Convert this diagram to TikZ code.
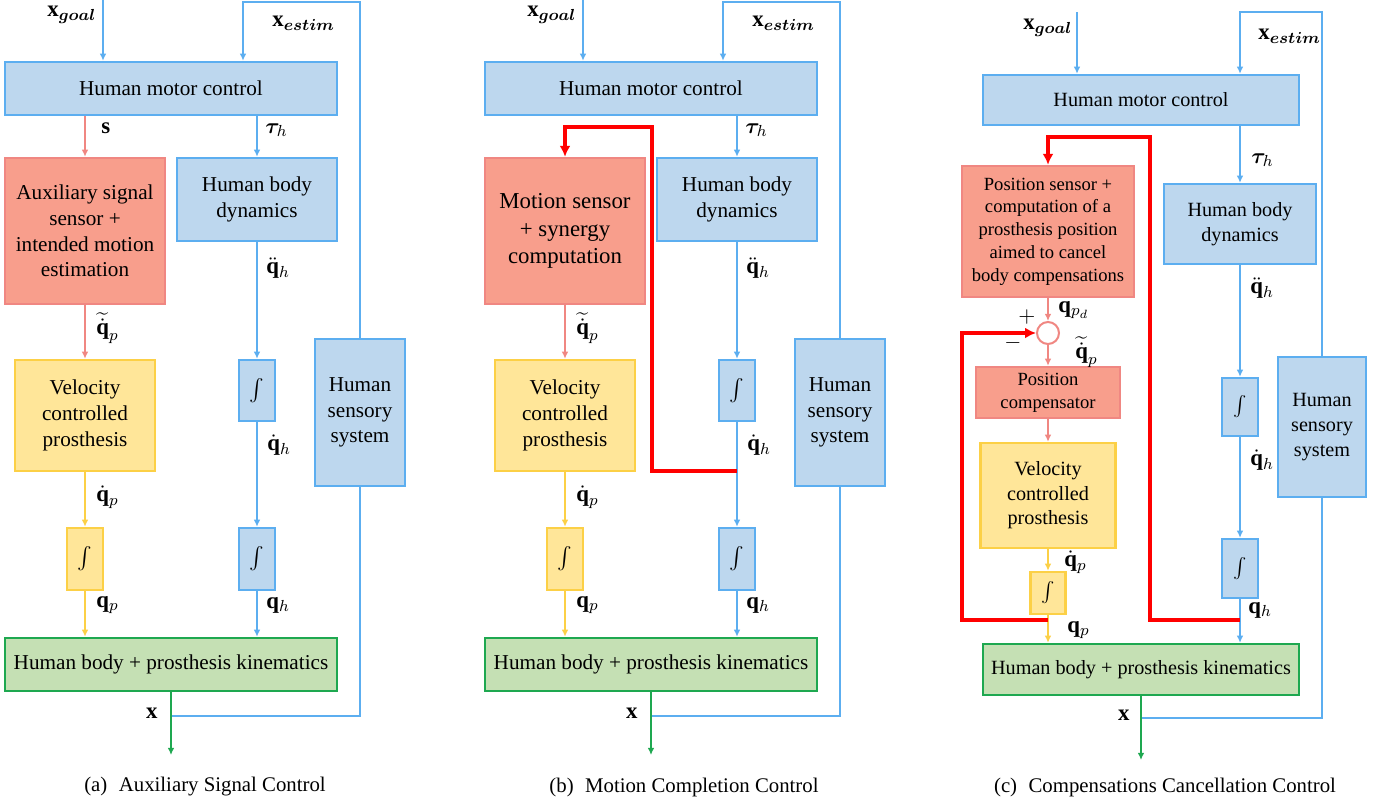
\documentclass[tikz,border=0pt]{standalone}
\usepackage{amsmath,bm}
\usepackage{fontspec}
\setmainfont{Liberation Serif}
\usetikzlibrary{arrows.meta}
\definecolor{bfill}{RGB}{189,215,238}
\definecolor{bline}{RGB}{92,174,240}
\definecolor{rfill}{RGB}{248,158,140}
\definecolor{rline}{RGB}{240,135,130}
\definecolor{yfill}{RGB}{255,230,153}
\definecolor{yline}{RGB}{252,208,70}
\definecolor{gfill}{RGB}{197,224,180}
\definecolor{gline}{RGB}{30,168,80}
\definecolor{fbred}{RGB}{255,0,0}
\newcommand{\fm}{\fontsize{10.6}{12.9}\selectfont}
\newcommand{\fl}{\fontsize{11.4}{13}\selectfont}
\newcommand{\fbig}{\fontsize{11.4}{13.8}\selectfont}
\newcommand{\fc}{\fontsize{10.1}{12.3}\selectfont}
\newcommand{\fsm}{\fontsize{9.3}{11.35}\selectfont}
\begin{document}
\begin{tikzpicture}[x=0.5pt,y=-0.5pt,
  box/.style={draw, line width=1.2pt, inner sep=0pt, align=center, font=\fm},
  sz/.style 2 args={minimum width=#1*0.5pt, minimum height=#2*0.5pt},
  bbox/.style={box, fill=bfill, draw=bline},
  rbox/.style={box, fill=rfill, draw=rline},
  ybox/.style={box, fill=yfill, draw=yline},
  gbox/.style={box, fill=gfill, draw=gline},
  con/.style={line width=0.9pt, -{Latex[length=3.6pt,width=3.4pt]}},
  bcon/.style={con, color=bline},
  rcon/.style={con, color=rline},
  ycon/.style={con, color=yline},
  gcon/.style={con, color=gline},
  bpath/.style={line width=0.9pt, draw=bline},
  fbcon/.style={line width=1.7pt, -{Latex[length=5.5pt,width=5.5pt]}, color=fbred},
  lab/.style={anchor=west, inner sep=0pt, font=\fl},
  captext/.style={inner sep=0pt, font=\fontsize{10.4}{12}\selectfont}
]
\useasboundingbox (0,0) rectangle (1382,804);

%% ================= Panel (a) =================
\coordinate (gA) at (103,0);
\coordinate (eA) at (243,2);
\coordinate (jA) at (171,716);
\coordinate (oA) at (171,755);
\node[bbox, sz={332}{53}] (hmcA) at (171,88.5) {Human motor control};
\node[rbox, sz={160}{146}] (redA) at (85,231) {Auxiliary signal\\sensor +\\intended motion\\estimation};
\node[bbox, sz={160}{83}] (hbdA) at (257,199.5) {Human body\\dynamics};
\node[ybox, sz={140}{111}] (velA) at (85,415.5) {Velocity\\controlled\\prosthesis};
\node[ybox, sz={36}{62}] (ipA) at (85,559) {$\int$};
\node[bbox, sz={36}{61}] (ih1A) at (257,390.5) {$\int$};
\node[bbox, sz={36}{62}] (ih2A) at (257,559) {$\int$};
\node[bbox, sz={90}{147}] (hssA) at (360,412.5) {Human\\sensory\\system};
\node[gbox, sz={332}{53}] (hbkA) at (171,664.5) {Human body + prosthesis kinematics};

\draw[bcon] (gA) -- (gA |- hmcA.north);
\draw[bcon] (hssA.north) |- (eA) -- (eA |- hmcA.north);
\draw[rcon] (hmcA.south -| redA.north) -- (redA.north);
\draw[bcon] (hmcA.south -| hbdA.north) -- (hbdA.north);
\draw[rcon] (redA.south) -- (velA.north);
\draw[ycon] (velA.south) -- (ipA.north);
\draw[ycon] (ipA.south) -- (ipA.south |- hbkA.north);
\draw[bcon] (hbdA.south) -- (ih1A.north);
\draw[bcon] (ih1A.south) -- (ih2A.north);
\draw[bcon] (ih2A.south) -- (ih2A.south |- hbkA.north);
\draw[bpath] (hssA.south) |- (jA);
\draw[gcon] (hbkA.south) -- (oA);

\node[lab] (lgA) at (47,15) {$\mathbf{x}_{\boldsymbol{goal}}$};
\node[lab] (leA) at (272,23) {$\mathbf{x}_{\boldsymbol{estim}}$};
\node[lab] (lsA) at (101,128) {$\mathbf{s}$};
\node[lab] (ltA) at (265,130) {$\boldsymbol{\tau}_h$};
\node[lab] (lqddA) at (266,268) {$\ddot{\mathbf{q}}_h$};
\node[lab] (lqtA) at (96,328) {$\widetilde{\dot{\mathbf{q}}}_p$};
\node[lab] (lqdhA) at (267,445) {$\dot{\mathbf{q}}_h$};
\node[lab] (lqdpA) at (96,497) {$\dot{\mathbf{q}}_p$};
\node[lab] (lqpA) at (96,605) {$\mathbf{q}_p$};
\node[lab] (lqhA) at (266,605) {$\mathbf{q}_h$};
\node[lab, anchor=east] (lxA) at (158,713) {$\mathbf{x}$};
\node[captext] (capA) at (205,787) {(a)\hspace{0.55em}Auxiliary Signal Control};

%% ================= Panel (b) =================
\coordinate (gB) at (583,0);
\coordinate (eB) at (723,2);
\coordinate (jB) at (651,716);
\coordinate (oB) at (651,755);
\coordinate (fbB) at (737,471);
\coordinate (tB) at (652,127);
\node[bbox, sz={332}{53}] (hmcB) at (651,88.5) {Human motor control};
\node[rbox, sz={160}{146}, font=\fbig] (redB) at (565,231) {Motion sensor\\+ synergy\\computation};
\node[bbox, sz={160}{83}] (hbdB) at (737,199.5) {Human body\\dynamics};
\node[ybox, sz={140}{111}] (velB) at (565,415.5) {Velocity\\controlled\\prosthesis};
\node[ybox, sz={36}{62}] (ipB) at (565,559) {$\int$};
\node[bbox, sz={36}{61}] (ih1B) at (737,390.5) {$\int$};
\node[bbox, sz={36}{62}] (ih2B) at (737,559) {$\int$};
\node[bbox, sz={90}{147}] (hssB) at (840,412.5) {Human\\sensory\\system};
\node[gbox, sz={332}{53}] (hbkB) at (651,664.5) {Human body + prosthesis kinematics};

\draw[bcon] (gB) -- (gB |- hmcB.north);
\draw[bcon] (hssB.north) |- (eB) -- (eB |- hmcB.north);
\draw[bcon] (hmcB.south -| hbdB.north) -- (hbdB.north);
\draw[rcon] (redB.south) -- (velB.north);
\draw[ycon] (velB.south) -- (ipB.north);
\draw[ycon] (ipB.south) -- (ipB.south |- hbkB.north);
\draw[bcon] (hbdB.south) -- (ih1B.north);
\draw[bcon] (ih1B.south) -- (ih2B.north);
\draw[bcon] (ih2B.south) -- (ih2B.south |- hbkB.north);
\draw[bpath] (hssB.south) |- (jB);
\draw[gcon] (hbkB.south) -- (oB);
\draw[fbcon] (fbB) -| (tB) -| (redB.north);

\node[lab] (lgB) at (527,15) {$\mathbf{x}_{\boldsymbol{goal}}$};
\node[lab] (leB) at (752,23) {$\mathbf{x}_{\boldsymbol{estim}}$};
\node[lab] (ltB) at (745,130) {$\boldsymbol{\tau}_h$};
\node[lab] (lqddB) at (746,268) {$\ddot{\mathbf{q}}_h$};
\node[lab] (lqtB) at (576,328) {$\widetilde{\dot{\mathbf{q}}}_p$};
\node[lab] (lqdhB) at (747,445) {$\dot{\mathbf{q}}_h$};
\node[lab] (lqdpB) at (576,497) {$\dot{\mathbf{q}}_p$};
\node[lab] (lqpB) at (576,605) {$\mathbf{q}_p$};
\node[lab] (lqhB) at (746,605) {$\mathbf{q}_h$};
\node[lab, anchor=east] (lxB) at (638,713) {$\mathbf{x}$};
\node[captext] (capB) at (684,787) {(b)\hspace{0.55em}Motion Completion Control};

%% ================= Panel (c) =================
\coordinate (gC) at (1077,12);
\coordinate (eC) at (1240,12);
\coordinate (jC) at (1141,718);
\coordinate (oC) at (1141,760);
\coordinate (fb1C) at (1240,620);
\coordinate (t1C) at (1150,137);
\coordinate (fb2C) at (1048,620);
\coordinate (t2C) at (962,333);
\node[bbox, sz={316}{50}, font=\fc] (hmcC) at (1141,100) {Human motor control};
\node[rbox, sz={172}{131}, font=\fsm] (redC) at (1048,231.5) {Position sensor +\\computation of a\\prosthesis position\\aimed to cancel\\body compensations};
\node[circle, draw=rline, fill=white, line width=1pt, minimum size=22*0.5pt, inner sep=0pt] (sumC) at (1048,333) {};
\node[rbox, sz={144}{51}, font=\fsm] (pcC) at (1048,392.5) {Position\\compensator};
\node[ybox, sz={135}{105}, font=\fc] (velC) at (1048,495.5) {Velocity\\controlled\\prosthesis};
\node[ybox, sz={35}{42}, font=\fc] (ipC) at (1048,593) {$\int$};
\node[bbox, sz={152}{80}, font=\fc] (hbdC) at (1240,224) {Human body\\dynamics};
\node[bbox, sz={36}{58}, font=\fc] (ih1C) at (1240,407) {$\int$};
\node[bbox, sz={36}{59}, font=\fc] (ih2C) at (1240,568.5) {$\int$};
\node[bbox, sz={88}{140}, font=\fc] (hssC) at (1322,427) {Human\\sensory\\system};
\node[gbox, sz={316}{51}, font=\fc] (hbkC) at (1141,669.5) {Human body + prosthesis kinematics};

\draw[bcon] (gC) -- (gC |- hmcC.north);
\draw[bcon] (hssC.north) |- (eC) -- (eC |- hmcC.north);
\draw[bcon] (hmcC.south -| hbdC.north) -- (hbdC.north);
\draw[rcon] (redC.south) -- (sumC.north);
\draw[rcon] (sumC.south) -- (pcC.north);
\draw[rcon] (pcC.south) -- (velC.north);
\draw[ycon] (velC.south) -- (ipC.north);
\draw[ycon] (ipC.south) -- (ipC.south |- hbkC.north);
\draw[bcon] (hbdC.south) -- (ih1C.north);
\draw[bcon] (ih1C.south) -- (ih2C.north);
\draw[bcon] (ih2C.south) -- (ih2C.south |- hbkC.north);
\draw[bpath] (hssC.south) |- (jC);
\draw[gcon] (hbkC.south) -- (oC);
\draw[fbcon] (fb1C) -| (t1C) -| (redC.north);
\draw[fbcon] (fb2C) -| (t2C) -- (sumC.west);

\node[lab] (lgC) at (1023,28) {$\mathbf{x}_{\boldsymbol{goal}}$};
\node[lab] (leC) at (1258,36) {$\mathbf{x}_{\boldsymbol{estim}}$};
\node[lab] (ltC) at (1251,160) {$\boldsymbol{\tau}_h$};
\node[lab] (lqddC) at (1250,288) {$\ddot{\mathbf{q}}_h$};
\node[lab] (lqdhC) at (1250,460) {$\dot{\mathbf{q}}_h$};
\node[lab] (lqhC) at (1248,610) {$\mathbf{q}_h$};
\node[lab] (lqpdC) at (1058,310) {$\mathbf{q}_{p_d}$};
\node[inner sep=0pt, font=\fl] (plusC) at (1027,317) {$+$};
\node[inner sep=0pt, font=\fl] (minusC) at (1013,343) {$-$};
\node[lab] (lqtC) at (1075,352) {$\widetilde{\dot{\mathbf{q}}}_p$};
\node[lab] (lqdpC) at (1064,562) {$\dot{\mathbf{q}}_p$};
\node[lab] (lqpC) at (1067,630) {$\mathbf{q}_p$};
\node[lab, anchor=east] (lxC) at (1130,715) {$\mathbf{x}$};
\node[captext] (capC) at (1165,787) {(c)\hspace{0.55em}Compensations Cancellation Control};
\end{tikzpicture}
\end{document}
